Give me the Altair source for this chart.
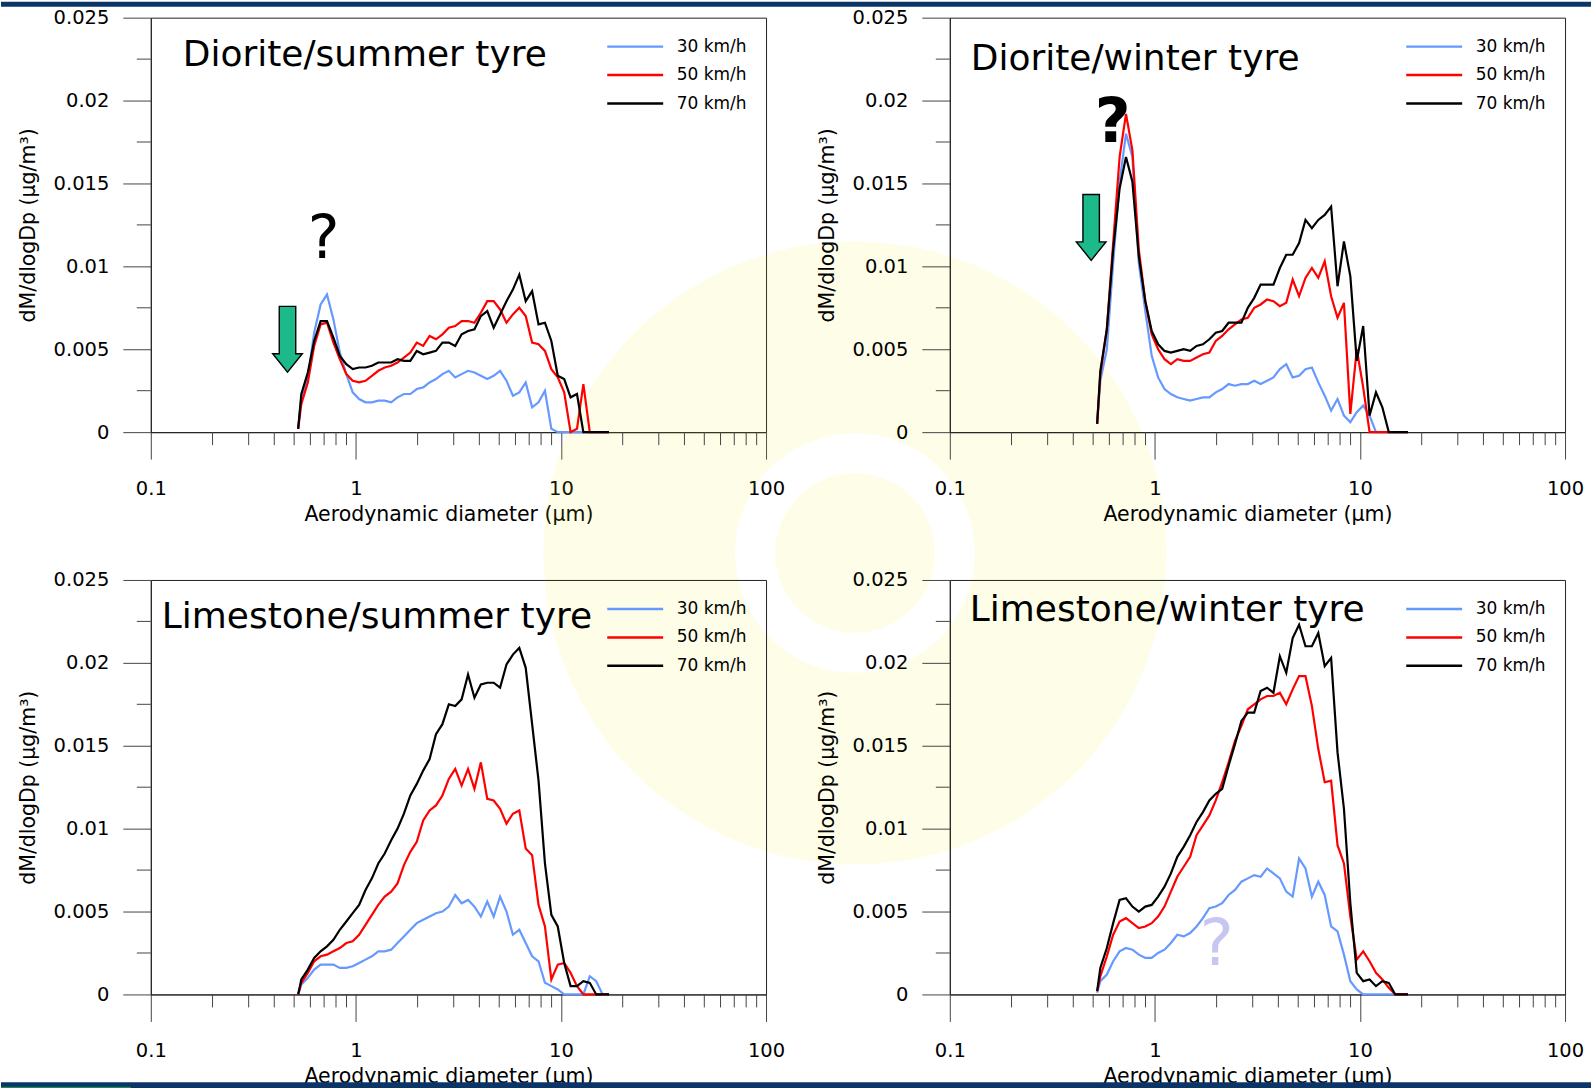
import altair as alt
import pandas as pd

FONT = "DejaVu Sans"

# Channel mid-point aerodynamic diameters (µm)
DIAMETERS = [0.523, 0.542, 0.583, 0.626, 0.673, 0.723, 0.777, 0.835, 0.898, 0.965,
             1.037, 1.114, 1.197, 1.286, 1.382, 1.486, 1.596, 1.715, 1.843, 1.981,
             2.129, 2.288, 2.458, 2.642, 2.839, 3.051, 3.278, 3.523, 3.786, 4.068,
             4.371, 4.698, 5.048, 5.425, 5.829, 6.264, 6.732, 7.234, 7.774, 8.354,
             8.977, 9.647, 10.37, 11.14, 11.97, 12.86, 13.82, 14.86, 15.96, 17.15]

SPEEDS = ["30 km/h", "50 km/h", "70 km/h"]
SPEED_COLORS = ["#6699ff", "#ff0000", "#000000"]

PANEL_TITLES = ["Diorite/summer tyre", "Diorite/winter tyre",
                "Limestone/summer tyre", "Limestone/winter tyre"]

# dM/dlogDp (µg/m³) — Diorite / summer tyre
DS_30 = [0.0002, 0.0021, 0.0033, 0.006, 0.0077, 0.0083, 0.0068, 0.0048, 0.0035, 0.0024,
         0.002, 0.0018, 0.0018, 0.0019, 0.0019, 0.0018, 0.0021, 0.0023, 0.0023, 0.0026,
         0.0027, 0.003, 0.0032, 0.0035, 0.0037, 0.0033, 0.0035, 0.0037, 0.0036, 0.0034,
         0.0032, 0.0034, 0.0037, 0.0031, 0.0022, 0.0024, 0.003, 0.0015, 0.0018, 0.0025,
         0.0002, 0.0, 0.0, 0.0, 0.0, 0.0, 0.0, 0.0, 0.0, 0.0]
DS_50 = [0.0002, 0.0017, 0.003, 0.0052, 0.0065, 0.0066, 0.0054, 0.0044, 0.0035, 0.0031,
         0.003, 0.0031, 0.0034, 0.0037, 0.0039, 0.004, 0.0042, 0.0045, 0.0048, 0.0054,
         0.0052, 0.0058, 0.0056, 0.0059, 0.0063, 0.0064, 0.0067, 0.0067, 0.0066, 0.0072,
         0.0079, 0.0079, 0.0074, 0.0066, 0.0071, 0.0075, 0.007, 0.0054, 0.0053, 0.0049,
         0.0038, 0.0033, 0.0024, 0.0, 0.0002, 0.0029, 0.0, 0.0, 0.0, 0.0]
DS_70 = [0.0002, 0.0023, 0.0036, 0.0055, 0.0067, 0.0067, 0.0057, 0.0046, 0.0041, 0.0038,
         0.0039, 0.0039, 0.004, 0.0042, 0.0042, 0.0042, 0.0044, 0.0043, 0.0043, 0.0049,
         0.0047, 0.0048, 0.0049, 0.0054, 0.0054, 0.0052, 0.0059, 0.0061, 0.0062, 0.007,
         0.0073, 0.0063, 0.0071, 0.0079, 0.0086, 0.0095, 0.0079, 0.0085, 0.0065, 0.0066,
         0.0055, 0.0034, 0.0032, 0.0021, 0.0023, 0.0, 0.0, 0.0, 0.0, 0.0]

# Diorite / winter tyre
DW_30 = [0.0005, 0.0031, 0.005, 0.0102, 0.0151, 0.018, 0.0166, 0.0102, 0.0073, 0.0046,
         0.0033, 0.0026, 0.0023, 0.0021, 0.002, 0.0019, 0.002, 0.0021, 0.0021, 0.0024,
         0.0026, 0.0029, 0.0028, 0.0029, 0.0029, 0.0031, 0.0029, 0.0031, 0.0033, 0.0038,
         0.0041, 0.0033, 0.0034, 0.0038, 0.0039, 0.003, 0.0022, 0.0013, 0.002, 0.001,
         0.0006, 0.0012, 0.0016, 0.001, 0.0, 0.0, 0.0, 0.0, 0.0, 0.0]
DW_50 = [0.0005, 0.0035, 0.0062, 0.0114, 0.0166, 0.0192, 0.017, 0.011, 0.0079, 0.0059,
         0.005, 0.0044, 0.0041, 0.0044, 0.0043, 0.0043, 0.0045, 0.0047, 0.0048, 0.0055,
         0.0058, 0.0062, 0.0065, 0.0068, 0.0069, 0.0075, 0.0077, 0.008, 0.0079, 0.0076,
         0.0078, 0.0092, 0.0082, 0.0093, 0.0099, 0.0093, 0.0103, 0.0082, 0.0069, 0.0078,
         0.0011, 0.005, 0.0027, 0.0, 0.0, 0.0, 0.0, 0.0, 0.0, 0.0]
DW_70 = [0.0005, 0.0037, 0.0062, 0.011, 0.0147, 0.0166, 0.0151, 0.0106, 0.0079, 0.0061,
         0.0053, 0.0049, 0.0048, 0.0049, 0.005, 0.0049, 0.0052, 0.0053, 0.0056, 0.006,
         0.0061, 0.0066, 0.0066, 0.0066, 0.0075, 0.0081, 0.0089, 0.0089, 0.0089, 0.0099,
         0.0107, 0.0107, 0.0114, 0.0128, 0.0123, 0.0128, 0.0131, 0.0136, 0.0088, 0.0115,
         0.0094, 0.0043, 0.0064, 0.001, 0.0024, 0.0015, 0.0, 0.0, 0.0, 0.0]

# Limestone / summer tyre
LS_30 = [0.0, 0.0006, 0.001, 0.0015, 0.0018, 0.0018, 0.0018, 0.0016, 0.0016, 0.0017,
         0.0019, 0.0021, 0.0023, 0.0026, 0.0026, 0.0027, 0.0031, 0.0035, 0.0039, 0.0043,
         0.0045, 0.0047, 0.0049, 0.005, 0.0053, 0.006, 0.0055, 0.0057, 0.0053, 0.0047,
         0.0056, 0.0047, 0.0059, 0.005, 0.0036, 0.0039, 0.0031, 0.0023, 0.002, 0.0007,
         0.0005, 0.0003, 0.0, 0.0, 0.0, 0.0, 0.0011, 0.0008, 0.0, 0.0]
LS_50 = [0.0, 0.0007, 0.0013, 0.002, 0.0023, 0.0024, 0.0026, 0.0028, 0.0031, 0.0032,
         0.0036, 0.0042, 0.0048, 0.0054, 0.0059, 0.0062, 0.0067, 0.0078, 0.0086, 0.0092,
         0.0105, 0.0111, 0.0114, 0.012, 0.013, 0.0136, 0.0126, 0.0136, 0.0124, 0.014,
         0.0118, 0.0117, 0.0112, 0.0103, 0.0109, 0.0111, 0.0088, 0.0084, 0.0054, 0.0041,
         0.0009, 0.0018, 0.0019, 0.0013, 0.0005, 0.0, 0.0, 0.0, 0.0, 0.0]
LS_70 = [0.0, 0.0009, 0.0015, 0.0022, 0.0026, 0.0029, 0.0033, 0.0039, 0.0044, 0.0049,
         0.0054, 0.0063, 0.007, 0.0079, 0.0085, 0.0093, 0.01, 0.0109, 0.012, 0.0127,
         0.0135, 0.0142, 0.0157, 0.0163, 0.0175, 0.0174, 0.0178, 0.0193, 0.0179, 0.0187,
         0.0188, 0.0188, 0.0185, 0.0199, 0.0205, 0.0209, 0.0197, 0.0163, 0.0129, 0.0079,
         0.0048, 0.0041, 0.0019, 0.0005, 0.0005, 0.0008, 0.0007, 0.0, 0.0, 0.0]

# Limestone / winter tyre
LW_30 = [0.0001, 0.0008, 0.0012, 0.002, 0.0026, 0.0028, 0.0027, 0.0024, 0.0022, 0.0022,
         0.0025, 0.0027, 0.0031, 0.0036, 0.0035, 0.0037, 0.0041, 0.0046, 0.0052, 0.0053,
         0.0055, 0.006, 0.0063, 0.0068, 0.007, 0.0072, 0.0071, 0.0076, 0.0073, 0.007,
         0.0062, 0.0059, 0.0082, 0.0076, 0.0059, 0.0068, 0.006, 0.0041, 0.0038, 0.0024,
         0.0008, 0.0003, 0.0, 0.0, 0.0, 0.0, 0.0, 0.0, 0.0, 0.0]
LW_50 = [0.0002, 0.0011, 0.0023, 0.0036, 0.0044, 0.0046, 0.0043, 0.004, 0.0041, 0.0043,
         0.0047, 0.0053, 0.0062, 0.0071, 0.0077, 0.0083, 0.0096, 0.0102, 0.0108, 0.0117,
         0.0128, 0.014, 0.0153, 0.0162, 0.0172, 0.0175, 0.0178, 0.018, 0.018, 0.0182,
         0.0175, 0.0184, 0.0192, 0.0192, 0.0174, 0.0148, 0.0128, 0.0129, 0.009, 0.0079,
         0.0047, 0.0021, 0.0026, 0.002, 0.0013, 0.0009, 0.0004, 0.0, 0.0, 0.0]
LW_70 = [0.0002, 0.0016, 0.0028, 0.0043, 0.0057, 0.0058, 0.0053, 0.005, 0.0053, 0.0054,
         0.0059, 0.0065, 0.0073, 0.0083, 0.0089, 0.0096, 0.0104, 0.011, 0.0117, 0.0121,
         0.0124, 0.0138, 0.0151, 0.0165, 0.017, 0.017, 0.0183, 0.0185, 0.0182, 0.0204,
         0.0194, 0.0215, 0.0223, 0.021, 0.021, 0.0218, 0.0198, 0.0203, 0.0146, 0.0112,
         0.0055, 0.0013, 0.0008, 0.0009, 0.0005, 0.0008, 0.0007, 0.0, 0.0, 0.0]

PANEL_SERIES = [
    [DS_30, DS_50, DS_70],
    [DW_30, DW_50, DW_70],
    [LS_30, LS_50, LS_70],
    [LW_30, LW_50, LW_70],
]

# Axis ticks
X_MAJOR = [0.1, 1, 10, 100]
X_MINOR = [0.2, 0.3, 0.4, 0.5, 0.6, 0.7, 0.8, 0.9,
           2, 3, 4, 5, 6, 7, 8, 9,
           20, 30, 40, 50, 60, 70, 80, 90]
Y_MAJOR = [0, 0.005, 0.01, 0.015, 0.02, 0.025]
Y_MINOR = [0.0025, 0.0075, 0.0125, 0.0175, 0.0225]

# Annotations ("?" marks and arrows), in data coordinates
QMARK_PANEL = [0, 1, 3]
QMARK_D = [0.697, 0.622, 2.0]
QMARK_V = [0.0105, 0.0175, 0.0018]

ARROW_PANEL = [0, 1]
ARROW_D = [0.464, 0.489]
ARROW_V = [0.0056, 0.01235]

# ---- styling / geometry ----
W, H = 616, 415
NAVY = "#0a3566"
TITLE_POS = [(32, 48), (21, 52), (11, 48), (20, 41)]
QMARK_STYLE = [(60, "normal", "#000000"), (62, "bold", "#000000"), (64, "normal", "#c6c6f3")]
ARROW_PATH = "M-0.25,-1L0.25,-1L0.25,0.44L0.45,0.44L0,1L-0.45,0.44L-0.25,0.44Z"

x_scale = alt.Scale(type="log", domain=[0.1, 100], nice=False)
y_scale = alt.Scale(domain=[0, 0.025], nice=False, zero=False)
color_scale = alt.Scale(domain=SPEEDS, range=SPEED_COLORS)

x_axis = alt.Axis(values=X_MAJOR, format="~g", tickSize=27, labelPadding=20,
                  labelFontSize=19.5, labelFlush=False, labelOverlap=False,
                  title="Aerodynamic diameter (µm)", titleFontSize=20.5,
                  titleX=298, titleY=88, titleBaseline="alphabetic", titleAlign="center",
                  grid=False)
y_axis = alt.Axis(values=Y_MAJOR, format="~g", tickSize=28, labelPadding=14,
                  labelFontSize=19.5, labelFlush=False, labelOverlap=False,
                  title="dM/dlogDp (µg/m³)", titleFontSize=20.5,
                  titlePadding=15, grid=False)

one_row = pd.DataFrame({"k": [0]})


def X(field="d"):
    return alt.X(f"{field}:Q", scale=x_scale, axis=x_axis)


def Y(field="v"):
    return alt.Y(f"{field}:Q", scale=y_scale, axis=y_axis)


def make_panel(i):
    rows = []
    for speed, values in zip(SPEEDS, PANEL_SERIES[i]):
        for d, v in zip(DIAMETERS, values):
            rows.append({"d": d, "v": v, "speed": speed})
    df = pd.DataFrame(rows)

    layers = []

    if i == 0:
        # faint logo in the background, spanning the whole figure
        wm_x, wm_y = 705, 536
        layers.append(alt.Chart(one_row).mark_arc(
            radius=312, radius2=120, theta=0, theta2=6.2832,
            color="#f5f000", opacity=0.09).encode(x=alt.value(wm_x), y=alt.value(wm_y)))
        layers.append(alt.Chart(one_row).mark_arc(
            radius=80, radius2=0, theta=0, theta2=6.2832,
            color="#f5f000", opacity=0.09).encode(x=alt.value(wm_x), y=alt.value(wm_y)))
        # header band
        layers.append(alt.Chart(one_row).mark_rect(color=NAVY).encode(
            x=alt.value(-150), x2=alt.value(1442), y=alt.value(-16), y2=alt.value(-11)))

    # minor ticks
    layers.append(alt.Chart(pd.DataFrame({"d": X_MINOR})).mark_rule(
        color="#444", strokeWidth=1).encode(x=X(), y=alt.value(H), y2=alt.value(H + 13)))
    layers.append(alt.Chart(pd.DataFrame({"v": Y_MINOR})).mark_rule(
        color="#444", strokeWidth=1).encode(y=Y(), x=alt.value(-14), x2=alt.value(0)))

    # size distributions
    layers.append(alt.Chart(df).mark_line(strokeWidth=2.2).encode(
        x=X(), y=Y(),
        color=alt.Color("speed:N", scale=color_scale, sort=SPEEDS,
                        legend=alt.Legend(orient="none", legendX=455.5, legendY=19,
                                          title=None, direction="vertical",
                                          symbolType="stroke", symbolSize=3136,
                                          symbolStrokeWidth=2.5, labelFont=FONT,
                                          labelFontSize=17, labelColor="#000",
                                          labelOffset=12, clipHeight=20,
                                          rowPadding=8.5, padding=0, offset=0))))

    # arrows
    for p, d, v in zip(ARROW_PANEL, ARROW_D, ARROW_V):
        if p == i:
            layers.append(alt.Chart(pd.DataFrame({"d": [d], "v": [v]})).mark_point(
                shape=ARROW_PATH, size=4356, filled=True, color="#1cb98b",
                stroke="#000", strokeWidth=1.4, opacity=1).encode(x=X(), y=Y()))

    # question marks
    for (p, d, v), (fs, fw, col) in zip(zip(QMARK_PANEL, QMARK_D, QMARK_V), QMARK_STYLE):
        if p == i:
            layers.append(alt.Chart(pd.DataFrame({"d": [d], "v": [v], "t": ["?"]})).mark_text(
                font=FONT, fontSize=fs, fontWeight=fw, color=col,
                align="center", baseline="alphabetic").encode(x=X(), y=Y(), text="t:N"))

    # panel heading
    tx, ty = TITLE_POS[i]
    layers.append(alt.Chart(pd.DataFrame({"t": [PANEL_TITLES[i]]})).mark_text(
        font=FONT, fontSize=36, color="#000", align="left", baseline="alphabetic").encode(
        x=alt.value(tx), y=alt.value(ty), text="t:N"))

    if i == 3:
        # footer band
        layers.append(alt.Chart(one_row).mark_rect(color=NAVY).encode(
            x=alt.value(-950), x2=alt.value(642), y=alt.value(503), y2=alt.value(509)))
        layers.append(alt.Chart(one_row).mark_rect(color="#1f8a5a").encode(
            x=alt.value(-950), x2=alt.value(-820), y=alt.value(507.5), y2=alt.value(509)))

    return alt.layer(*layers).properties(width=W, height=H)


panels = [make_panel(i) for i in range(4)]

chart = alt.concat(
    *panels, columns=2, spacing={"row": 148, "column": 184}, bounds="flush"
).resolve_legend(
    color="independent"
).properties(
    padding=0, background="white"
).configure_view(
    stroke="#222", strokeWidth=1
).configure_axis(
    domainColor="#222", domainWidth=1, tickColor="#444", tickWidth=1,
    labelColor="#000", titleColor="#000", labelFont=FONT, titleFont=FONT,
    titleFontWeight="normal"
)

chart.save("out.html", embed_options={"renderer": "svg", "actions": False})
